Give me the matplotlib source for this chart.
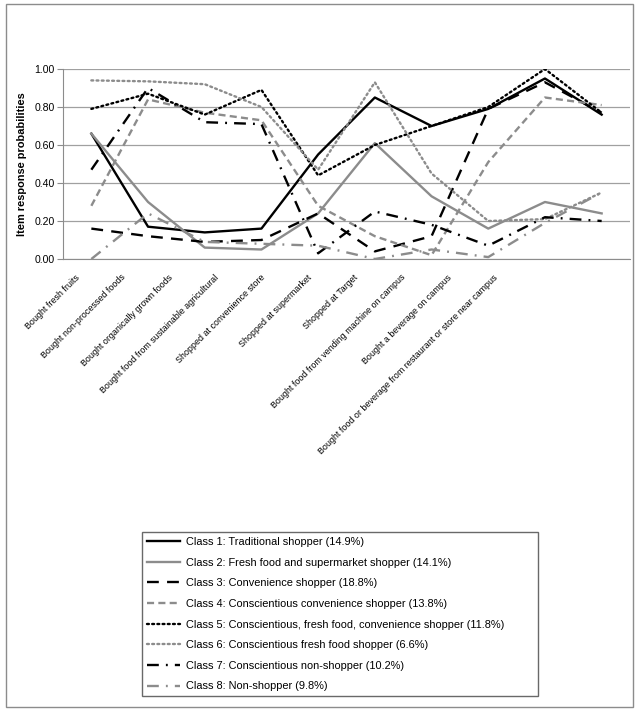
import matplotlib
matplotlib.use("Agg")
import matplotlib.pyplot as plt
from matplotlib.patches import Rectangle
from matplotlib.transforms import ScaledTranslation

plt.rcParams['font.family'] = ['Liberation Sans Narrow', 'Liberation Sans', 'DejaVu Sans']

items = ["Bought fresh fruits", "Bought non-processed foods", "Bought organically grown foods",
         "Bought food from sustainable agricultural", "Shopped at convenience store",
         "Shopped at supermarket", "Shopped at Target",
         "Bought food from vending machine on campus", "Bought a beverage on campus",
         "Bought food or beverage from restaurant or store near campus"]

class1 = [0.66, 0.17, 0.14, 0.16, 0.55, 0.85, 0.70, 0.79, 0.95, 0.76]
class2 = [0.66, 0.30, 0.06, 0.05, 0.24, 0.61, 0.33, 0.16, 0.30, 0.24]
class3 = [0.16, 0.12, 0.09, 0.10, 0.24, 0.04, 0.12, 0.79, 0.93, 0.77]
class4 = [0.28, 0.84, 0.77, 0.73, 0.28, 0.12, 0.02, 0.51, 0.85, 0.81]
class5 = [0.79, 0.87, 0.76, 0.89, 0.44, 0.60, 0.70, 0.80, 1.00, 0.77]
class6 = [0.94, 0.935, 0.92, 0.80, 0.47, 0.93, 0.45, 0.20, 0.21, 0.35]
class7 = [0.47, 0.90, 0.72, 0.71, 0.03, 0.25, 0.18, 0.07, 0.22, 0.20]
class8 = [0.00, 0.24, 0.09, 0.08, 0.07, 0.00, 0.05, 0.01, 0.19, 0.35]

labels = ["Class 1: Traditional shopper (14.9%)",
          "Class 2: Fresh food and supermarket shopper (14.1%)",
          "Class 3: Convenience shopper (18.8%)",
          "Class 4: Conscientious convenience shopper (13.8%)",
          "Class 5: Conscientious, fresh food, convenience shopper (11.8%)",
          "Class 6: Conscientious fresh food shopper (6.6%)",
          "Class 7: Conscientious non-shopper (10.2%)",
          "Class 8: Non-shopper (9.8%)"]

black = 'black'
gray = '#8c8c8c'
lw = 1.7

fig = plt.figure(figsize=(6.4, 7.11), dpi=100)
ax = fig.add_axes([63/640, 1-259/711, (630-63)/640, (259-69)/711])

x = list(range(len(items)))
ax.plot(x, class1, color=black, lw=lw, linestyle='-', label=labels[0])
ax.plot(x, class2, color=gray, lw=lw, linestyle='-', label=labels[1])
ax.plot(x, class3, color=black, lw=lw, linestyle=(0, (5, 3.5)), label=labels[2])
ax.plot(x, class4, color=gray, lw=lw, linestyle=(0, (3, 1.8)), label=labels[3])
ax.plot(x, class5, color=black, lw=lw, linestyle=(0, (0.8, 1.4)), dash_capstyle='round', label=labels[4])
ax.plot(x, class6, color=gray, lw=lw, linestyle=(0, (0.8, 1.4)), dash_capstyle='round', label=labels[5])
ax.plot(x, class7, color=black, lw=lw, linestyle=(0, (5, 3, 0.8, 3)), label=labels[6])
ax.plot(x, class8, color=gray, lw=lw, linestyle=(0, (5, 3, 0.8, 3)), label=labels[7])

ax.set_xlim(-0.5, len(items) - 0.5)
ax.set_ylim(0, 1.0)
ax.set_yticks([0, 0.2, 0.4, 0.6, 0.8, 1.0])
ax.set_yticklabels(["0.00", "0.20", "0.40", "0.60", "0.80", "1.00"], fontsize=7.6)
ax.yaxis.grid(True, color='#a0a0a0', lw=0.9)
ax.set_axisbelow(True)
for s in ['top', 'right']:
    ax.spines[s].set_visible(False)
ax.spines['left'].set_color('#8c8c8c')
ax.spines['bottom'].set_color('#8c8c8c')
ax.tick_params(axis='y', length=4, color='#8c8c8c', pad=2)
ax.tick_params(axis='x', length=0, pad=0)
ax.set_xticks(x)
ax.set_xticklabels(items, rotation=45, ha='right', va='center', rotation_mode='anchor', fontsize=6.4)
ax.set_ylabel("Item response probabilities", fontsize=7.9, fontweight='bold', labelpad=5)

# category labels sit on a narrower spacing than the data points in the original
for i, lab in enumerate(ax.get_xticklabels()):
    dx = (78 + 46.5 * i) - (63 + (i + 0.5) * 56.7)
    lab.set_transform(lab.get_transform() + ScaledTranslation(dx / 100, -17 / 100, fig.dpi_scale_trans))

leg = ax.legend(loc='upper left', bbox_to_anchor=(142/640, 1-697/711, 396/640, 165/711),
                bbox_transform=fig.transFigure, mode='expand', fontsize=7.9, frameon=True,
                fancybox=False, edgecolor='#444444', handlelength=3.0, handletextpad=0.55,
                labelspacing=0.97, borderpad=0.45, borderaxespad=0)
leg.get_frame().set_linewidth(1.0)

fig.patches.append(Rectangle((6/640, 4/711), 627/640, 703/711, transform=fig.transFigure,
                             fill=False, edgecolor='#8c8c8c', lw=1.0))

fig.savefig("out.png", dpi=100)
